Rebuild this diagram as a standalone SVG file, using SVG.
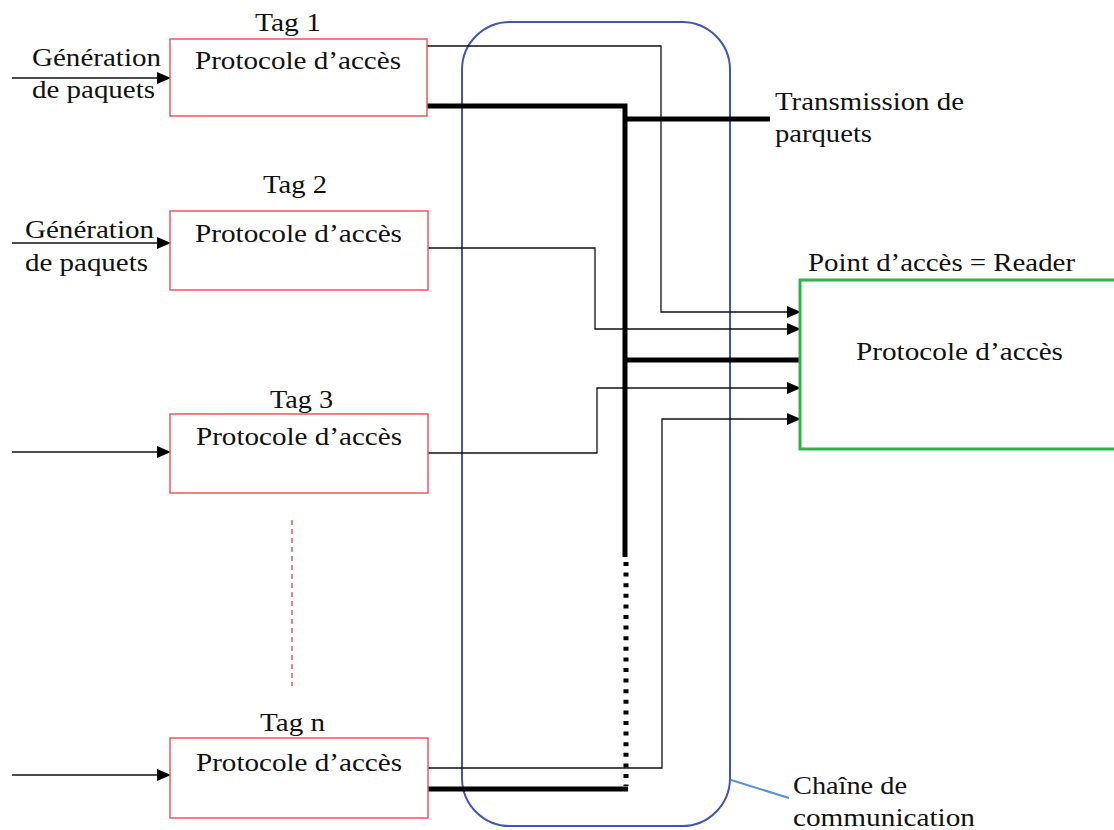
<svg xmlns="http://www.w3.org/2000/svg" width="1114" height="830" viewBox="0 0 1114 830">
<style>
text{font-family:"Liberation Serif","Times New Roman",serif;font-size:25px;fill:#111}
.tag{fill:#fff;stroke:#e8585c;stroke-width:1.5}
.thin{fill:none;stroke:#111;stroke-width:1.3}
.thick{fill:none;stroke:#000;stroke-width:5}
</style>
<defs>
<marker id="ah" markerWidth="14" markerHeight="12" refX="13" refY="6" orient="auto" markerUnits="userSpaceOnUse">
<path d="M0,0 L14,6 L0,12 Z" fill="#000"/>
</marker>
</defs>
<rect width="1114" height="830" fill="#fff"/>
<g id="chain">
<rect x="462" y="22" width="268" height="804" rx="48" ry="48" fill="none" stroke="#3f57b0" stroke-width="2"/>
<line x1="731" y1="780" x2="789" y2="798" stroke="#5b8fd0" stroke-width="2"/>
<text x="793" y="794" textLength="114" lengthAdjust="spacingAndGlyphs">Chaîne de</text>
<text x="793" y="826" textLength="182" lengthAdjust="spacingAndGlyphs">communication</text>
</g>
<g id="connectors">
<path class="thin" d="M427,46 H661 V312 H800" marker-end="url(#ah)"/>
<path class="thin" d="M428,248 H595 V329 H800" marker-end="url(#ah)"/>
<path class="thin" d="M428,453 H597 V388 H800" marker-end="url(#ah)"/>
<path class="thin" d="M428,768 H662 V419 H800" marker-end="url(#ah)"/>
<path class="thick" d="M427,106 H625 V557"/>
<line class="thick" x1="625" y1="119" x2="770" y2="119"/>
<line class="thick" x1="625" y1="360" x2="800" y2="360"/>
<line x1="626" y1="562" x2="626" y2="786" stroke="#000" stroke-width="5" stroke-dasharray="4,6.6"/>
<line class="thick" x1="428" y1="789" x2="628" y2="789"/>
<line class="thin" x1="12" y1="78" x2="170" y2="78" marker-end="url(#ah)"/>
<line class="thin" x1="12" y1="243" x2="170" y2="243" marker-end="url(#ah)"/>
<line class="thin" x1="12" y1="452" x2="170" y2="452" marker-end="url(#ah)"/>
<line class="thin" x1="12" y1="775" x2="170" y2="775" marker-end="url(#ah)"/>
<line x1="292" y1="520" x2="292" y2="686" stroke="#e8585c" stroke-width="1.5" stroke-dasharray="5,4"/>
</g>
<g id="tag1">
<rect class="tag" x="170" y="39" width="257" height="77"/>
<text x="255" y="31" textLength="66" lengthAdjust="spacingAndGlyphs">Tag 1</text>
<text x="195" y="69" textLength="206" lengthAdjust="spacingAndGlyphs">Protocole d’accès</text>
<text x="32" y="66" textLength="129" lengthAdjust="spacingAndGlyphs">Génération</text>
<text x="32" y="98" textLength="123" lengthAdjust="spacingAndGlyphs">de paquets</text>
</g>
<g id="tag2">
<rect class="tag" x="170" y="211" width="258" height="79"/>
<text x="263" y="193" textLength="64" lengthAdjust="spacingAndGlyphs">Tag 2</text>
<text x="195" y="242" textLength="207" lengthAdjust="spacingAndGlyphs">Protocole d’accès</text>
<text x="25" y="238" textLength="129" lengthAdjust="spacingAndGlyphs">Génération</text>
<text x="25" y="271" textLength="123" lengthAdjust="spacingAndGlyphs">de paquets</text>
</g>
<g id="tag3">
<rect class="tag" x="170" y="414" width="258" height="79"/>
<text x="270" y="408" textLength="63" lengthAdjust="spacingAndGlyphs">Tag 3</text>
<text x="196" y="445" textLength="206" lengthAdjust="spacingAndGlyphs">Protocole d’accès</text>
</g>
<g id="tagn">
<rect class="tag" x="170" y="738" width="258" height="80"/>
<text x="260" y="731" textLength="65" lengthAdjust="spacingAndGlyphs">Tag n</text>
<text x="196" y="771" textLength="206" lengthAdjust="spacingAndGlyphs">Protocole d’accès</text>
</g>
<g id="transmission">
<text x="775" y="110" textLength="189" lengthAdjust="spacingAndGlyphs">Transmission de</text>
<text x="775" y="142" textLength="97" lengthAdjust="spacingAndGlyphs">parquets</text>
</g>
<g id="reader">
<rect x="800" y="280" width="330" height="169" fill="none" stroke="#2db34a" stroke-width="3"/>
<text x="808" y="271" textLength="267" lengthAdjust="spacingAndGlyphs">Point d’accès = Reader</text>
<text x="856" y="360" textLength="207" lengthAdjust="spacingAndGlyphs">Protocole d’accès</text>
</g>
</svg>
